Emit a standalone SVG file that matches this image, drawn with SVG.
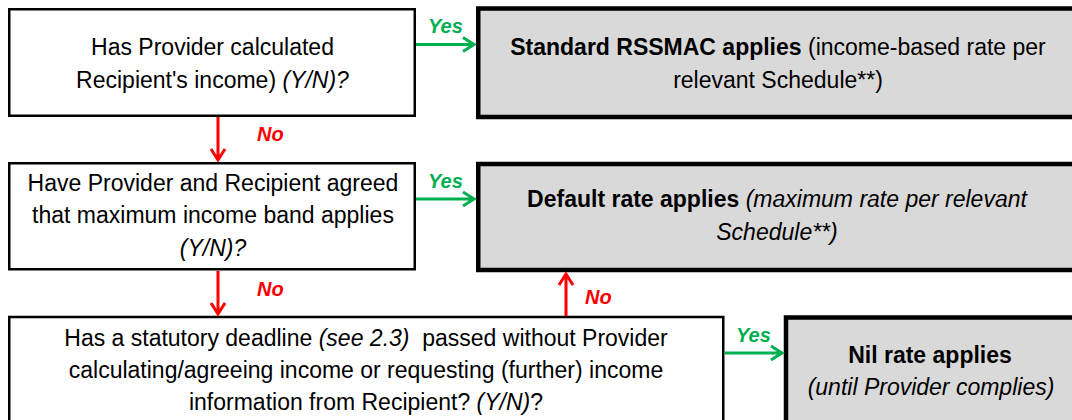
<svg xmlns="http://www.w3.org/2000/svg" width="1072" height="420" viewBox="0 0 1072 420">
<style>
text{font-family:"Liberation Sans",Arial,sans-serif;font-size:23px;fill:#000;text-anchor:middle;white-space:pre}
.q{fill:#fff;stroke:#000;stroke-width:2.5}
.r{fill:#d9d9d9;stroke:#000;stroke-width:4.5}
.b{font-weight:bold}
.i{font-style:italic}
.yes{fill:#00b050;font-weight:bold;font-style:italic;font-size:20px;text-anchor:start}
.no{fill:#ff0000;font-weight:bold;font-style:italic;font-size:20px;text-anchor:start}
.g{stroke:#00b050;stroke-width:3;fill:none}
.rd{stroke:#ff0000;stroke-width:3;fill:none}
</style>
<rect width="1072" height="420" fill="#fff"/>
<g id="q1">
<rect class="q" x="9.25" y="9.25" width="405.5" height="106.5"/>
<text x="212.5" y="55">Has Provider calculated</text>
<text x="212.5" y="88">Recipient's income) <tspan class="i">(Y/N)?</tspan></text>
</g>
<g id="r1">
<rect class="r" x="478.25" y="8.5" width="620" height="108.5"/>
<text x="778" y="55"><tspan class="b">Standard RSSMAC applies</tspan> (income-based rate per</text>
<text x="778" y="88">relevant Schedule**)</text>
</g>
<g id="q2">
<rect class="q" x="9.25" y="163.25" width="405.5" height="106"/>
<text x="213" y="191">Have Provider and Recipient agreed</text>
<text x="213" y="223">that maximum income band applies</text>
<text x="213" y="256" class="i">(Y/N)?</text>
</g>
<g id="r2">
<rect class="r" x="478.25" y="164" width="620" height="106"/>
<text x="777" y="207"><tspan class="b">Default rate applies</tspan><tspan class="i"> (maximum rate per relevant</tspan></text>
<text x="777" y="240" class="i">Schedule**)</text>
</g>
<g id="q3">
<rect class="q" x="9.25" y="317" width="714" height="120"/>
<text x="366" y="346">Has a statutory deadline <tspan class="i">(see 2.3)</tspan>  passed without Provider</text>
<text x="366" y="378">calculating/agreeing income or requesting (further) income</text>
<text x="366" y="410">information from Recipient? <tspan class="i">(Y/N)</tspan>?</text>
</g>
<g id="r3">
<rect class="r" x="786" y="317.5" width="320" height="120"/>
<text x="930" y="363" class="b">Nil rate applies</text>
<text x="931" y="395" class="i">(until Provider complies)</text>
</g>
<g id="connectors">
<path class="g" d="M416 44.5H474M463 37.5L474 44.5L463 51.5"/>
<text class="yes" x="428" y="33">Yes</text>
<path class="g" d="M416 199H474M463 192L474 199L463 206"/>
<text class="yes" x="428" y="188">Yes</text>
<path class="g" d="M724.5 353H782M771 346L782 353L771 360"/>
<text class="yes" x="736" y="342">Yes</text>
<path class="rd" d="M218 117V160M211 149L218 160L225 149"/>
<text class="no" x="257" y="141">No</text>
<path class="rd" d="M218 271V314M211 303L218 314L225 303"/>
<text class="no" x="257" y="296">No</text>
<path class="rd" d="M566 316V274M559 285L566 274L573 285"/>
<text class="no" x="585" y="304">No</text>
</g>
</svg>
